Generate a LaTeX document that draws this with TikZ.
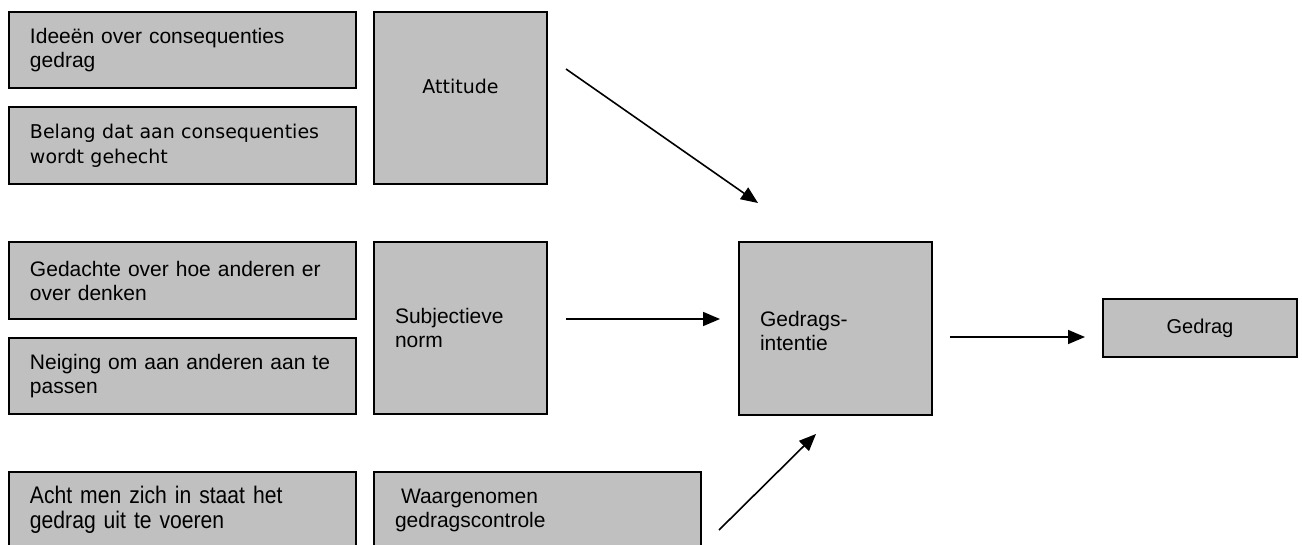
\documentclass[tikz,border=0pt]{standalone}
\usepackage{fontspec}
\setmainfont{Liberation Sans}
\newfontfamily\tahomafont{DejaVu Sans}
\newfontfamily\smalfont[FakeStretch=0.88]{Liberation Sans}
\usetikzlibrary{arrows.meta,positioning}
\definecolor{vakgrijs}{RGB}{192,192,192}
\tikzset{
  vak/.style={rectangle, draw=black, fill=vakgrijs, line width=1.3pt, outer sep=0pt,
    anchor=north west, inner xsep=21pt, inner ysep=0pt, align=left,
    font=\fontsize{21}{24}\selectfont},
  breed/.style={vak, minimum width=347pt, text width=305pt},
  pijl/.style={line width=1.6pt, -{Triangle[length=17pt,width=14pt]}}
}
\begin{document}
\begin{tikzpicture}[x=1pt,y=-1pt]
\useasboundingbox (0,0) rectangle (1302,544);
\clip (0,0) rectangle (1302,544);
\node[breed, minimum height=76pt] (idee) at (9,12) {Ideeën over consequenties\\gedrag};
\node[breed, minimum height=77pt, font=\tahomafont\fontsize{19}{25}\selectfont] (belang) at (9,107) {Belang dat aan consequenties\\wordt gehecht};
\node[vak, minimum width=173pt, minimum height=172pt, text width=131pt, align=center,
  font=\tahomafont\fontsize{19}{22}\selectfont, text height=15pt, text depth=25pt] (attitude) at (374,12) {Attitude};
\node[breed, minimum height=77pt] (gedachte) at (9,242) {Gedachte over hoe anderen er\\over denken};
\node[breed, minimum height=76pt] (neiging) at (9,338) {Neiging om aan anderen aan te\\passen};
\node[vak, minimum width=173pt, minimum height=172pt, text width=131pt] (norm) at (374,242) {Subjectieve\\norm};
\node[breed, minimum height=76pt, font=\smalfont\fontsize{24}{25}\selectfont] (acht) at (9,472) {Acht men zich in staat het\\gedrag uit te voeren};
\node[vak, minimum width=327pt, minimum height=76pt, text width=285pt] (controle) at (374,472) {\hspace*{6pt}Waargenomen\\gedragscontrole};
\node[vak, minimum width=193pt, minimum height=173pt, text width=151pt, text height=20pt] (intentie) at (739,242) {Gedrags-\\intentie};
\node[vak, minimum width=194pt, minimum height=58pt, text width=152pt, align=center,
  font=\fontsize{20}{24}\selectfont] (gedrag) at (1103,299) {Gedrag};
\coordinate (att-uit) at (566,69);
\coordinate (att-in) at (758,203);
\coordinate (norm-uit) at (566,319);
\coordinate (norm-in) at (720,319);
\coordinate (contr-uit) at (719,530);
\coordinate (contr-in) at (816,434);
\coordinate (int-uit) at (950,337);
\coordinate (int-in) at (1085,337);
\draw[pijl] (att-uit) -- (att-in);
\draw[pijl] (norm-uit) -- (norm-in);
\draw[pijl] (contr-uit) -- (contr-in);
\draw[pijl] (int-uit) -- (int-in);
\end{tikzpicture}
\end{document}
